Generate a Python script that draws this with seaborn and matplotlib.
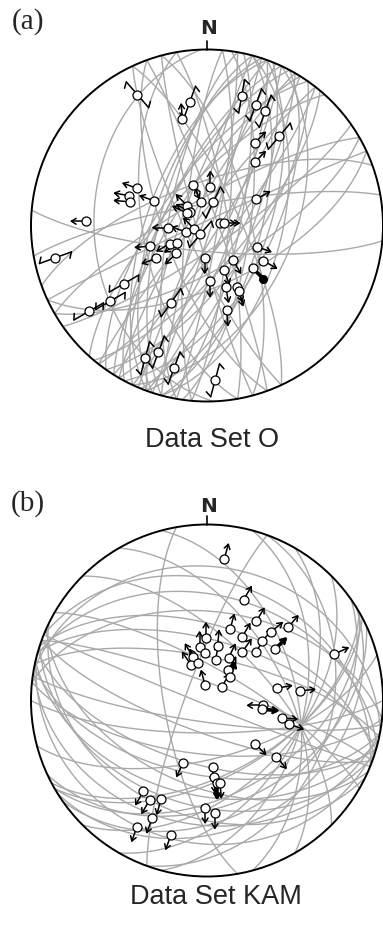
import numpy as np
import pandas as pd
import matplotlib
matplotlib.use("Agg")
import matplotlib.pyplot as plt
import seaborn as sns

# ---------------- Data Set O (panel a) ----------------
planes_a_strike = [5, 8, 10, 12, 15, 18, 20, 22, 25, 28, 30, 32, 35, 38, 15, 25, 20, 40,
                   185, 190, 195, 198, 200, 203, 205, 208, 210, 212, 215, 218, 222, 195, 200,
                   335, 340, 345, 350, 155, 160, 165, 170, 178,
                   55, 60, 240, 245, 65, 250, 260, 95]
planes_a_dip = [80, 70, 85, 75, 65, 88, 78, 70, 82, 60, 75, 85, 68, 80, 55, 50, 62, 72,
                80, 72, 85, 65, 78, 88, 70, 70, 82, 75, 68, 85, 72, 68, 62,
                75, 85, 70, 80, 80, 70, 85, 60, 36,
                80, 70, 78, 88, 62, 70, 80, 78]

lin_a_trend = [332, 347, 352, 15, 22, 27, 39, 30, 37, 62, 5, 341, 345, 15, 298, 291, 287, 295,
               315, 308, 302, 272, 258, 267, 252, 254, 217, 78, 82, 244, 239, 228, 237, 250,
               184, 143, 113, 122, 133, 159, 177, 163, 154, 154, 167, 205, 235, 232, 234,
               205, 201, 193, 177]
lin_a_plunge = [17, 38, 30, 25, 27, 28, 35, 45, 53, 64, 72, 70, 79, 79, 53, 51, 52, 63,
                77, 80, 79, 32, 13, 72, 80, 84, 85, 84, 82, 71, 74, 71, 62, 62,
                75, 70, 65, 59, 61, 68, 64, 60, 58, 56, 49, 50, 42, 31, 18,
                18, 24, 18, 13]
lin_a_slip = [139, 355, 20, 10, 20, 20, 40, 45, 45, 60, 0, 155, 340, 25, 290, 280, 275, 290,
              315, 300, 295, 270, 70, 270, 290, 315, 40, 90, 90, 240, 235, 225, 250, 265,
              180, 150, 110, 120, 135, 160, 180, 170, 160, 165, 175, 35, 60, 60, 60,
              15, 20, 20, 15]
# a: arrow, d: double arrow, s/z: strike-slip (dextral/sinistral), f: filled, o: none
lin_a_kind = ["z", "a", "s", "s", "s", "s", "s", "a", "a", "a", "a", "a", "a", "s", "a", "a", "a", "a",
              "a", "a", "a", "a", "s", "a", "a", "a", "s", "o", "d", "a", "a", "a", "a", "a",
              "a", "a", "a", "a", "f", "a", "a", "a", "a", "a", "a", "s", "s", "s", "s",
              "s", "s", "s", "s"]

# ---------------- Data Set KAM (panel b) ----------------
planes_b_strike = [100, 103, 106, 110, 112, 285, 288, 282, 290, 280, 104, 114, 96, 276, 116, 98, 292, 101, 286, 108,
                   15, 45, 60, 75, 90, 345, 330, 315, 300, 30,
                   55, 60, 62, 58, 65,
                   20, 200, 170]
planes_b_dip = [30, 45, 60, 75, 88, 40, 55, 70, 82, 25, 20, 50, 65, 48, 35, 80, 33, 55, 62, 40,
                44, 48, 54, 63, 75, 48, 54, 63, 75, 45,
                35, 45, 55, 28, 40,
                30, 80, 70]

lin_b_trend = [7, 20, 32, 18, 48, 43, 359, 352, 29, 11, 43, 53, 36, 45, 358, 342, 336, 346, 12, 27,
               35, 44, 353, 48, 80, 84, 95, 99, 103, 106, 132, 129, 70, 201, 175, 175, 173, 171,
               181, 176, 215, 210, 205, 205, 209, 195]
lin_b_plunge = [20, 39, 46, 55, 38, 46, 61, 65, 56, 64, 52, 50, 62, 58, 68, 69, 72, 72, 71, 68,
                73, 75, 83, 81, 57, 46, 64, 64, 54, 50, 60, 48, 24, 59, 59, 54, 51, 51,
                39, 36, 37, 35, 38, 27, 19, 22]
lin_b_slip = [15, 30, 30, 15, 40, 50, 0, 0, 30, 5, 40, 45, 35, 35, 0, 330, 325, 330, 10, 25,
              30, 20, 345, 30, 80, 85, 270, 95, 95, 110, 135, 140, 65, 205, 180, 175, 180, 175,
              180, 180, 210, 210, 195, 200, 200, 200]
lin_b_kind = ["a", "a", "a", "a", "a", "a", "a", "a", "a", "a", "a", "A", "a", "a", "o", "a", "a", "a", "a", "a",
              "a", "A", "a", "a", "a", "a", "a", "A", "a", "a", "a", "a", "a", "a", "a", "a", "A", "a",
              "a", "a", "a", "a", "a", "a", "a", "a"]

W, H, DPI = 383, 928, 100
R_PX = 176.0


def project(trend, plunge):
    t = np.radians(np.asarray(trend, float))
    p = np.radians(np.asarray(plunge, float))
    rho = np.sqrt(2) * np.sin((np.pi / 2 - p) / 2)
    return rho * np.sin(t), rho * np.cos(t)


def great_circle(strike, dip, n=181):
    s = np.radians(strike)
    d = np.radians(dip)
    rake = np.linspace(0, np.pi, n)
    sv = np.array([np.sin(s), np.cos(s), 0.0])
    dd = s + np.pi / 2
    dv = np.array([np.sin(dd) * np.cos(d), np.cos(dd) * np.cos(d), np.sin(d)])
    v = np.outer(np.cos(rake), sv) + np.outer(np.sin(rake), dv)
    plunge = np.degrees(np.arcsin(np.clip(v[:, 2], -1, 1)))
    trend = np.degrees(np.arctan2(v[:, 0], v[:, 1]))
    return project(trend, plunge)


def unit(az):
    a = np.radians(az)
    return np.array([np.sin(a), np.cos(a)])


def draw_head(ax, tip, u, lw, px):
    hl, ang = 5.5 * px, np.radians(32)
    for sgn in (1, -1):
        ca, sa = np.cos(sgn * ang), np.sin(sgn * ang)
        back = -u
        b = np.array([back[0] * ca - back[1] * sa, back[0] * sa + back[1] * ca])
        ax.plot([tip[0], tip[0] + hl * b[0]], [tip[1], tip[1] + hl * b[1]],
                color="black", lw=lw, solid_capstyle="round", zorder=4)


def draw_symbols(ax, xs, ys, slip, kind):
    px = 1.0 / R_PX
    for x, y, az, k in zip(xs, ys, slip, kind):
        p = np.array([x, y])
        u = unit(az)
        if k in ("a", "d", "A", "f"):
            lw = 1.1 if k in ("a", "d") else 2.6
            L = 15 * px
            tip = p + L * u
            ax.plot([p[0], tip[0]], [p[1], tip[1]], color="black", lw=lw, zorder=4,
                    solid_capstyle="butt")
            if k == "f":
                ax.plot([tip[0]], [tip[1]], "o", color="black", ms=5.5, zorder=4)
            else:
                draw_head(ax, tip, u, 1.1 if k != "A" else 1.8, px)
            if k == "d":
                draw_head(ax, tip - 4 * px * u, u, 1.1, px)
        elif k in ("s", "z"):
            sense = 1 if k == "s" else -1
            L = 17 * px
            n = np.array([u[1], -u[0]])
            t1, t2 = p + L * u, p - L * u
            ax.plot([t2[0], t1[0]], [t2[1], t1[1]], color="black", lw=1.1, zorder=4)
            hb = 6.5 * px
            b1 = t1 - 0.55 * hb * u + 0.85 * hb * sense * n
            b2 = t2 + 0.55 * hb * u - 0.85 * hb * sense * n
            ax.plot([t1[0], b1[0]], [t1[1], b1[1]], color="black", lw=1.1, zorder=4)
            ax.plot([t2[0], b2[0]], [t2[1], b2[1]], color="black", lw=1.1, zorder=4)


def draw_net(ax, strikes, dips, trends, plunges, slip, kind):
    rows = []
    for i, (s, d) in enumerate(zip(strikes, dips)):
        gx, gy = great_circle(s, d)
        rows.append(pd.DataFrame({"x": gx, "y": gy, "plane": i}))
    df = pd.concat(rows, ignore_index=True)
    sns.lineplot(data=df, x="x", y="y", units="plane", estimator=None, sort=False,
                 color="#a9a9a9", lw=1.0, ax=ax, legend=False, zorder=1)
    ax.add_patch(plt.Circle((0, 0), 1.0, fill=False, lw=1.4, color="black", zorder=3,
                            clip_on=False))
    ax.plot([0, 0], [1.0, 1.0 + 9 / R_PX], color="black", lw=1.2, zorder=3, clip_on=False)
    xs, ys = project(trends, plunges)
    draw_symbols(ax, xs, ys, slip, kind)
    pts = pd.DataFrame({"x": xs, "y": ys})
    sns.scatterplot(data=pts, x="x", y="y", s=42, color="white", edgecolor="black",
                    linewidth=0.9, ax=ax, zorder=5, legend=False)


sns.set_theme(style="white")
fig = plt.figure(figsize=(W / DPI, H / DPI), dpi=DPI)

cx = 207.0
for (top_px, cy), strikes, dips, tr, pl, sl, kd in [
        ((0, 226.5), planes_a_strike, planes_a_dip, lin_a_trend, lin_a_plunge, lin_a_slip, lin_a_kind),
        ((464, 701.5), planes_b_strike, planes_b_dip, lin_b_trend, lin_b_plunge, lin_b_slip, lin_b_kind)]:
    ax = fig.add_axes([0, 1 - (top_px + 464) / H, 1, 464 / H])
    ax.set_xlim(-cx / R_PX, (W - cx) / R_PX)
    ax.set_ylim((cy - (top_px + 464)) / R_PX, (cy - top_px) / R_PX)
    ax.set_axis_off()
    draw_net(ax, strikes, dips, tr, pl, sl, kd)


def ftext(x, y, s, **kw):
    fig.text(x / W, 1 - y / H, s, ha="center", va="center", **kw)


ftext(28, 22, "(a)", family="Liberation Serif", fontsize=21)
ftext(28, 504, "(b)", family="Liberation Serif", fontsize=21)
ftext(209, 29, "N", family="DejaVu Sans", fontweight="bold", fontsize=14.5)
ftext(209, 507, "N", family="DejaVu Sans", fontweight="bold", fontsize=14.5)
ftext(212, 440, "Data Set O", family="Liberation Sans", fontsize=19.5)
ftext(216, 897, "Data Set KAM", family="Liberation Sans", fontsize=19.5)

fig.savefig("out.png", dpi=DPI)
